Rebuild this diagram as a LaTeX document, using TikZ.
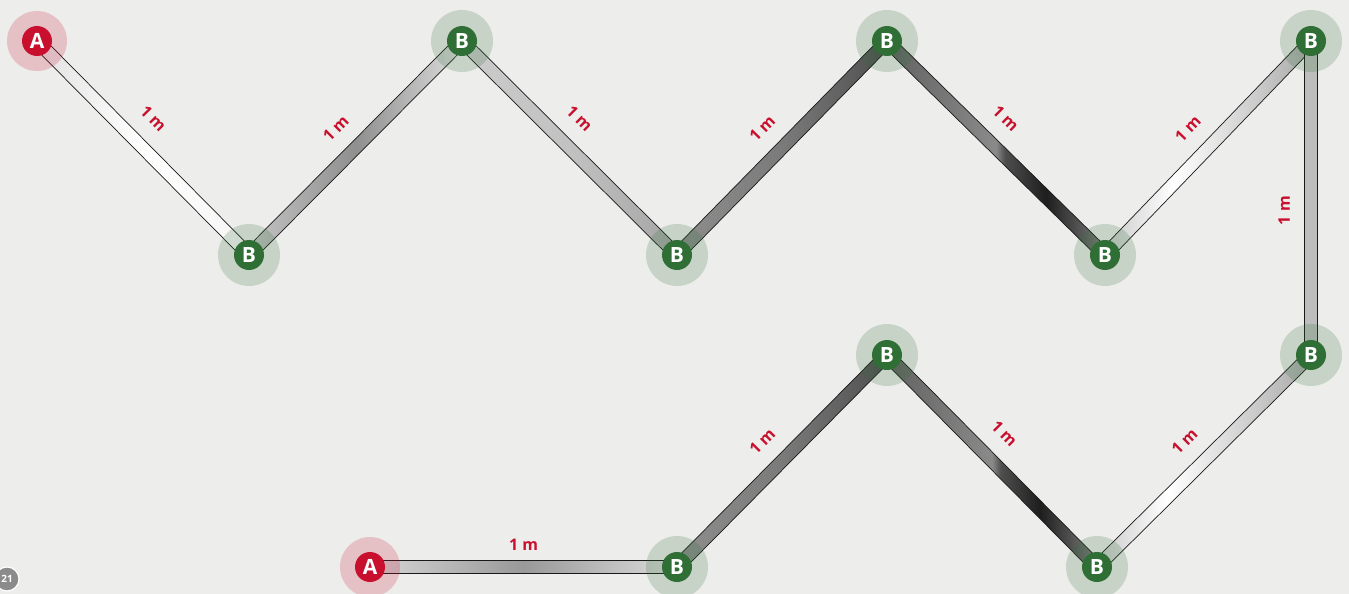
\documentclass[tikz,border=0pt]{standalone}
\usepackage{fontspec}
\setmainfont{Open Sans}
\usetikzlibrary{calc}

\definecolor{paper}{HTML}{EDEDEB}
\definecolor{markred}{HTML}{C8102E}
\definecolor{markgreen}{HTML}{2F6E35}
\definecolor{badgegrey}{HTML}{8B8B8B}
\definecolor{bandA}{HTML}{606060}
\definecolor{bandB}{HTML}{8A8A8A}
\definecolor{bandC}{HTML}{4E4E4E}
\definecolor{bandD}{HTML}{1E1E1E}
\definecolor{glintA}{HTML}{C6C6C6}
\definecolor{glintB}{HTML}{A6A6A6}

\pgfdeclarelayer{paperlayer}
\pgfdeclarelayer{tubelayer}
\pgfsetlayers{paperlayer,tubelayer,main}

% shadings run left to right across the bounding box of each tube
\pgfdeclarehorizontalshading{bandtube}{100bp}{color(0bp)=(bandA); color(25bp)=(bandA); color(50bp)=(bandB); color(52bp)=(bandC); color(61bp)=(bandD); color(67.5bp)=(bandC); color(75bp)=(bandB); color(100bp)=(bandB)}
\pgfdeclarehorizontalshading{glinttube}{100bp}{color(0bp)=(glintA); color(25bp)=(glintA); color(42bp)=(white); color(75bp)=(glintB); color(100bp)=(glintB)}

% #1 tube look, #2 from node, #3 to node, #4 label position, #5 label gap
\newcommand{\tube}[5]{%
	\path[tubeline,#1] ($(#2)!6.5pt!90:(#3)$) -- ($(#3)!6.5pt!-90:(#2)$) -- ($(#3)!6.5pt!90:(#2)$) -- ($(#2)!6.5pt!-90:(#3)$) -- cycle;
	\path (#2) -- (#3) node[lenlabel=#5, pos=#4] {1 m};
}

\begin{document}
\begin{tikzpicture}[
	x=1pt,
	y=-1pt,
	apoint/.style={
		circle,
		fill=markred,
		minimum size=30pt,
		inner sep=0pt,
		text=white,
		font=\bfseries\fontsize{21}{21}\selectfont
	},
	bpoint/.style={
		apoint,
		fill=markgreen
	},
	ahalo/.style={fill=markred, opacity=.2},
	bhalo/.style={fill=markgreen, opacity=.2},
	tubeline/.style={
		draw=black!90,
		line width=.7pt
	},
	lenlabel/.style={
		sloped,
		above=#1,
		inner sep=0pt,
		text=markred,
		font=\bfseries\fontsize{16}{16}\selectfont
	},
	pagebadge/.style={
		circle,
		fill=badgegrey,
		draw=white,
		line width=1.2pt,
		minimum size=24pt,
		inner sep=0pt,
		text=white,
		font=\bfseries\fontsize{10}{10}\selectfont
	}
	]
	\useasboundingbox (0,0) rectangle (1349,594);
	\begin{pgfonlayer}{paperlayer}
		\fill[paper] (0,0) rectangle (1349,594);
	\end{pgfonlayer}

	% end points and bends
	\node[apoint] (a1) at (37,41) {A};
	\node[apoint] (a2) at (370,567) {A};
	\foreach \name/\x/\y in {b1/249/255, b2/462/41, b3/677/255, b4/887/41, b5/1105/255, b6/1311/41, b7/1311/355, b8/1097/567, b9/887/355, b10/677/567} {
		\node[bpoint] (\name) at (\x,\y) {B};
	}

	\node[pagebadge] (page) at (7,579) {21};

	\begin{pgfonlayer}{tubelayer}
		% upper run (middle color last, or left/right reset it)
		\tube{left color=black!12, right color=black!4, middle color=white}{a1}{b1}{.45}{22pt}
		\tube{left color=black!22, right color=black!12, middle color=black!44}{b1}{b2}{.5}{22pt}
		\tube{left color=black!20, right color=black!36, middle color=black!24}{b2}{b3}{.45}{22pt}
		\tube{left color=black!44, right color=black!70, middle color=black!52}{b3}{b4}{.5}{22pt}
		\tube{shade, shading=bandtube}{b4}{b5}{.45}{22pt}
		\tube{shade, shading=glinttube}{b5}{b6}{.5}{22pt}
		\tube{fill=black!26}{b7}{b6}{.455}{21pt}
		% lower run
		\tube{shade, shading=glinttube}{b7}{b8}{.5}{22pt}
		\tube{shade, shading=bandtube}{b9}{b8}{.46}{22pt}
		\tube{left color=black!44, right color=black!70, middle color=black!52}{b9}{b10}{.5}{22pt}
		\tube{left color=black!16, right color=black!14, middle color=black!40}{a2}{b10}{.5}{16pt}

		% halos over the tube ends
		\fill[ahalo] (a1) circle (30);
		\fill[ahalo] (a2) circle (30);
		\foreach \i in {1,...,10} {
			\fill[bhalo] (b\i) circle (31);
		}
	\end{pgfonlayer}
\end{tikzpicture}
\end{document}
